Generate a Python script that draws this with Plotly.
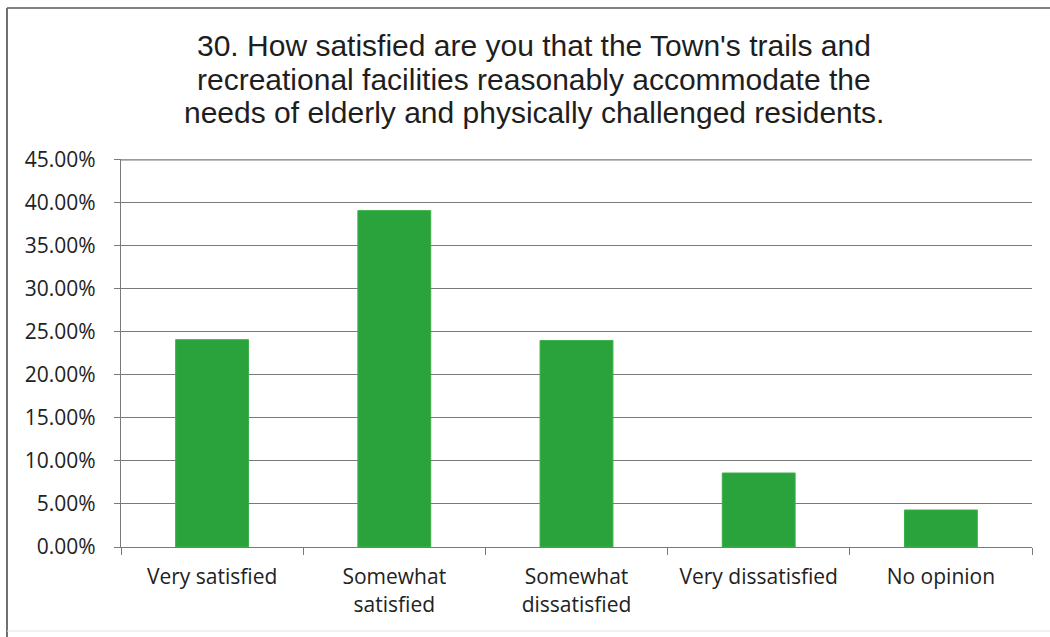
import plotly.graph_objects as go

# Survey responses, question 30
categories = ["Very satisfied", "Somewhat<br>satisfied", "Somewhat<br>dissatisfied",
              "Very dissatisfied", "No opinion"]
shares = [24.1, 39.1, 24.0, 8.6, 4.3]          # percent of respondents
tick_values = [0, 5, 10, 15, 20, 25, 30, 35, 40, 45]
tick_labels = ["0.00%", "5.00%", "10.00%", "15.00%", "20.00%", "25.00%",
               "30.00%", "35.00%", "40.00%", "45.00%"]
title_lines = [
    "30. How satisfied are you that the Town's trails and",
    "recreational facilities reasonably accommodate the",
    "needs of elderly and physically challenged residents.",
]

W, H = 1050, 637
L, R, T, B = 121, 18, 159, 90
pw, ph = W - L - R, H - T - B
y_top = 45.1


def px_x(x):
    return (x - L) / pw


def px_y(y):
    return (H - B - y) / ph


fig = go.Figure(go.Bar(
    x=categories, y=shares,
    marker=dict(color="#2ba33c", line=dict(color="#3cb04a", width=1)),
    width=0.4,
))

grid = "#7a7a7a"

# three title lines set with tight leading
title_font = dict(family="Liberation Sans, Arial, sans-serif", size=30, color="#1e1e1e")
annotations = [
    dict(text=line, xref="paper", yref="paper", x=px_x(534), y=px_y(46 + 33 * i),
         xanchor="center", yanchor="middle", showarrow=False, font=title_font)
    for i, line in enumerate(title_lines)
]

fig.update_layout(
    width=W, height=H,
    margin=dict(l=L, r=R, t=T, b=B),
    paper_bgcolor="white", plot_bgcolor="white",
    showlegend=False,
    annotations=annotations,
    xaxis=dict(
        showline=True, linecolor=grid, linewidth=1.2,
        ticks="outside", tickson="boundaries", ticklen=7, tickcolor=grid,
        tickfont=dict(family="Open Sans, sans-serif", size=21, color="#222222"),
        ticklabelstandoff=11,
    ),
    yaxis=dict(
        range=[0, y_top], tickvals=tick_values, ticktext=tick_labels,
        showgrid=True, gridcolor=grid, gridwidth=1.2,
        showline=True, linecolor=grid, linewidth=1.2,
        ticks="outside", ticklen=6, tickcolor=grid,
        tickfont=dict(family="Open Sans, sans-serif", size=21, color="#222222"),
        ticklabelstandoff=14, zeroline=False,
    ),
    shapes=[
        # top gridline of the value axis
        dict(type="line", xref="paper", yref="y", x0=0, x1=1,
             y0=tick_values[-1], y1=tick_values[-1],
             line=dict(color=grid, width=1.2), layer="below"),
        # frame around the chart
        dict(type="line", xref="paper", yref="paper",
             x0=px_x(7), x1=px_x(1050), y0=px_y(8), y1=px_y(8),
             line=dict(color="#808080", width=2)),
        dict(type="line", xref="paper", yref="paper",
             x0=px_x(7), x1=px_x(7), y0=px_y(8), y1=px_y(637),
             line=dict(color="#707070", width=2)),
        dict(type="line", xref="paper", yref="paper",
             x0=px_x(7), x1=px_x(1050), y0=px_y(631), y1=px_y(631),
             line=dict(color="#e4e4e4", width=1)),
    ],
)

fig.write_html("out.html")
